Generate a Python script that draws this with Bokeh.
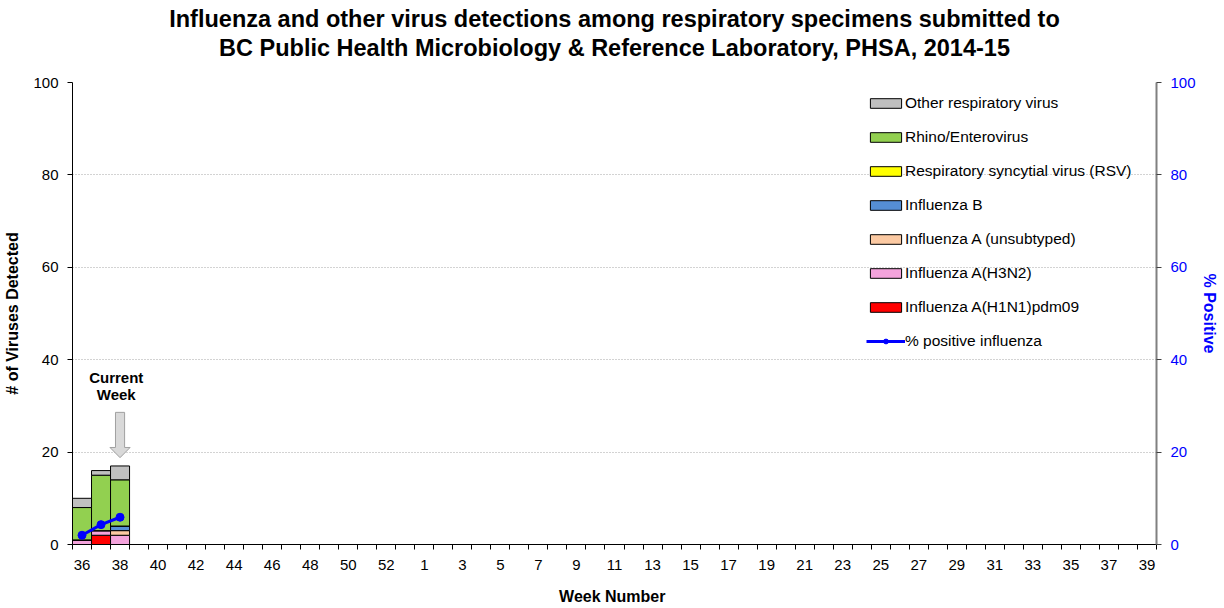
from bokeh.plotting import figure
from bokeh.models import (ColumnDataSource, Range1d, LinearAxis, FixedTicker,
                          Legend, LegendItem, Title)
from bokeh.core.properties import value
from bokeh.embed import file_html
from bokeh.resources import INLINE

# ---------------- data ----------------
weeks = list(range(36, 54)) + list(range(1, 40))      # 2014-15 season weeks
report_weeks = [36, 37, 38]
h1n1 = [0, 2, 0]
h3n2 = [1, 1, 2]
flu_a_unsub = [0, 0, 1]
flu_b = [0, 0, 1]
rsv = [0, 0, 0]
rhino_entero = [7, 12, 10]
other_resp = [2, 1, 3]
pct_positive = [2.0, 4.3, 5.9]
current_week = 38
y_ticks = [0, 20, 40, 60, 80, 100]
title_lines = ["Influenza and other virus detections among respiratory specimens submitted to",
               "BC Public Health Microbiology & Reference Laboratory, PHSA, 2014-15"]

series_keys = ["h1n1", "h3n2", "unsub", "fluB", "rsv", "rhino", "other"]
series_vals = [h1n1, h3n2, flu_a_unsub, flu_b, rsv, rhino_entero, other_resp]
series_names = ["Influenza A(H1N1)pdm09", "Influenza A(H3N2)", "Influenza A (unsubtyped)",
                "Influenza B", "Respiratory syncytial virus (RSV)", "Rhino/Enterovirus",
                "Other respiratory virus"]
colors = ["#ff0000", "#f4a3dc", "#fbc9a2", "#558ed5", "#ffff00", "#92d050", "#c0c0c0"]

FONT = "Liberation Sans"

idx = [weeks.index(w) for w in report_weeks]
data = {"x": idx, "pct": pct_positive}
for k, v in zip(series_keys, series_vals):
    data[k] = v
src = ColumnDataSource(data)

p = figure(width=1224, height=608, output_backend="svg", toolbar_location=None,
           x_range=Range1d(-0.5, len(weeks) - 0.5), y_range=Range1d(0, 100),
           min_border_left=72, min_border_right=68, min_border_top=82, min_border_bottom=64)
p.extra_y_ranges = {"pct": Range1d(0, 100)}
p.outline_line_color = None
p.background_fill_color = "white"

# bars
bars = p.vbar_stack(series_keys, x="x", width=1.0, source=src, color=colors,
                    line_color="black", line_width=1)

# % positive line
ln = p.line("x", "pct", source=src, y_range_name="pct", line_color="#0000ff", line_width=3)
sc = p.scatter("x", "pct", source=src, y_range_name="pct", size=8, fill_color="#0000ff",
               line_color="#0000ff")

# grid
p.xgrid.visible = False
p.ygrid.ticker = FixedTicker(ticks=y_ticks[1:])
p.ygrid.grid_line_color = "#a6a6a6"
p.ygrid.grid_line_dash = "1 2"
p.ygrid.grid_line_width = 1

# x axis
xa = p.xaxis[0]
xa.ticker = FixedTicker(ticks=list(range(0, len(weeks), 2)),
                        minor_ticks=[i - 0.5 for i in range(len(weeks) + 1)])
xa.major_label_overrides = {i: str(weeks[i]) for i in range(0, len(weeks), 2)}
xa.major_tick_out = 0
xa.major_tick_in = 0
xa.minor_tick_out = 5
xa.minor_tick_in = 0
xa.minor_tick_line_color = "black"
xa.axis_line_color = "black"
xa.major_label_text_font = FONT
xa.major_label_text_font_size = "15px"
xa.major_label_text_color = "black"
xa.major_label_standoff = 10
xa.axis_label = "Week  Number"
xa.axis_label_text_font = FONT
xa.axis_label_text_font_size = "16px"
xa.axis_label_text_font_style = "bold"
xa.axis_label_text_color = "black"
xa.axis_label_standoff = 15

# left axis
ya = p.yaxis[0]
ya.ticker = FixedTicker(ticks=y_ticks)
ya.minor_tick_out = 0
ya.minor_tick_in = 0
ya.major_tick_out = 5
ya.major_tick_in = 0
ya.axis_line_color = "black"
ya.major_tick_line_color = "black"
ya.major_label_text_font = FONT
ya.major_label_text_font_size = "15px"
ya.major_label_text_color = "black"
ya.major_label_standoff = 9
ya.axis_label = "# of Viruses Detected"
ya.axis_label_text_font = FONT
ya.axis_label_text_font_size = "16px"
ya.axis_label_text_font_style = "bold"
ya.axis_label_text_color = "black"
ya.axis_label_standoff = 9

# right axis
ra = LinearAxis(y_range_name="pct", ticker=FixedTicker(ticks=y_ticks))
ra.minor_tick_out = 0
ra.minor_tick_in = 0
ra.major_tick_out = 5
ra.major_tick_in = 0
ra.axis_line_color = "#808080"
ra.axis_line_width = 2
ra.major_tick_line_color = "#404040"
ra.major_label_text_font = FONT
ra.major_label_text_font_size = "15px"
ra.major_label_text_color = "#0000ff"
ra.major_label_standoff = 9
ra.axis_label = "% Positive"
ra.axis_label_text_font = FONT
ra.axis_label_text_font_size = "16px"
ra.axis_label_text_font_style = "bold"
ra.axis_label_text_color = "#0000ff"
ra.axis_label_standoff = 2
p.add_layout(ra, "right")

# title (two centred lines; the one added first sits next to the plot)
p.add_layout(Title(text=title_lines[1], align="center", text_font=FONT, text_font_size="23.5px",
                   text_font_style="bold", text_color="black", standoff=44), "above")
p.add_layout(Title(text=title_lines[0], align="center", text_font=FONT, text_font_size="23.5px",
                   text_font_style="bold", text_color="black", standoff=-42), "above")

# current week annotation
cw = weeks.index(current_week)
p.text(x=[cw - 0.2, cw - 0.2], y=[36.1, 32.5], text=["Current", "Week"],
       text_font=value(FONT), text_font_size="15px", text_font_style="bold",
       text_align="center", text_baseline="middle", text_color="black")
sw, hw = 0.24, 0.53
p.patch(x=[cw - sw, cw + sw, cw + sw, cw + hw, cw, cw - hw, cw - sw],
        y=[28.6, 28.6, 21.0, 21.0, 18.8, 21.0, 21.0],
        fill_color="#d9d9d9", line_color="#a0a0a0", line_width=1)

# legend
items = [LegendItem(label=series_names[i], renderers=[bars[i]]) for i in range(len(bars) - 1, -1, -1)]
items.append(LegendItem(label="% positive influenza", renderers=[ln, sc]))
leg = Legend(items=items, location=(794, 193), orientation="vertical",
             border_line_color=None, background_fill_alpha=0,
             label_text_font=FONT, label_text_font_size="15.5px", label_text_color="black",
             glyph_width=39, glyph_height=12, label_height=20, spacing=14,
             label_standoff=0, padding=5, margin=0)
p.add_layout(leg, "center")

open("out.html", "w").write(file_html(p, INLINE))
